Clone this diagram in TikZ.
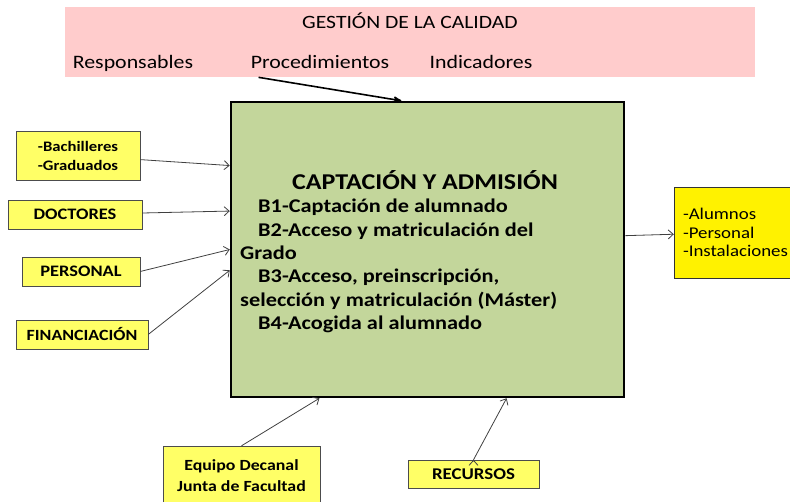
\documentclass[tikz,border=0pt]{standalone}
\usepackage{fontspec}
\setmainfont{Carlito}[FakeStretch=1.15]
\usepackage{tikz}
\usetikzlibrary{arrows,arrows.meta,positioning}

\definecolor{rosa}{HTML}{FFCCCC}
\definecolor{verde}{HTML}{C3D69B}
\definecolor{amarillo}{HTML}{FFFF66}

\begin{document}
\begin{tikzpicture}[x=1pt,y=-1pt,->,>={Straight Barb[length=5pt,width=9pt]},
                    entrada/.style={draw=black!70,fill=amarillo,inner sep=0pt,
                      align=center,font=\bfseries},
                    flecha/.style={draw=black!75,line width=0.8pt}]
  \useasboundingbox (0,0) rectangle (790,502);

  \node[fill=rosa,minimum width=690pt,minimum height=70pt,inner sep=0pt]
        (Q) at (410,42) {};
  \node[font=\fontsize{18.8}{22}\selectfont] (QT) at (410,21) {GESTIÓN DE LA CALIDAD};
  \node[font=\fontsize{19}{22}\selectfont,inner sep=0pt,anchor=base] (R) at (133,69) {Responsables};
  \node[font=\fontsize{19}{22}\selectfont,inner sep=0pt,anchor=base] (P) at (320,69) {Procedimientos};
  \node[font=\fontsize{19}{22}\selectfont,inner sep=0pt,anchor=base] (I) at (481,69) {Indicadores};

  \node[draw=black,line width=2.5pt,fill=verde,minimum width=393pt,
        minimum height=295pt,inner sep=0pt] (G) at (427.5,249.5) {};
  \node[font=\fontsize{22.6}{26}\selectfont\bfseries,inner sep=0pt]
        (T) at (425,180) {CAPTACIÓN Y ADMISIÓN};
  \node[font=\fontsize{19.4}{23.3}\selectfont\bfseries,align=left,inner sep=0pt,
        anchor=north west] (B) at (240,199)
        {\hspace*{18pt}B1-Captación de alumnado\\
         \hspace*{18pt}B2-Acceso y matriculación del\\
         Grado\\
         \hspace*{18pt}B3-Acceso, preinscripción,\\
         selección y matriculación (Máster)\\
         \hspace*{18pt}B4-Acogida al alumnado};

  \node[entrada,minimum width=124pt,minimum height=49pt,font=\fontsize{14.5}{19}\selectfont\bfseries]
        (BG) at (78,155.5) {-Bachilleres\\-Graduados};
  \node[entrada,minimum width=134pt,minimum height=29pt,font=\fontsize{16}{19}\selectfont\bfseries]
        (D) at (75,214.5) {DOCTORES};
  \node[entrada,minimum width=118pt,minimum height=29pt,font=\fontsize{16}{19}\selectfont\bfseries]
        (PE) at (81,271.5) {PERSONAL};
  \node[entrada,minimum width=132pt,minimum height=29pt,font=\fontsize{15.6}{19}\selectfont\bfseries]
        (F) at (82,334.5) {FINANCIACIÓN};

  \node[draw=black!80,fill=yellow,minimum width=118pt,minimum height=91pt,
        inner sep=0pt,text width=100pt,align=left,font=\fontsize{16.4}{18.7}\selectfont]
        (S) at (733,232.5) {\mbox{-Alumnos}\\\mbox{-Personal}\\\mbox{-Instalaciones}};

  \node[entrada,minimum width=157pt,minimum height=60pt,font=\fontsize{15.5}{21}\selectfont\bfseries]
        (E) at (241.5,476) {Equipo Decanal\\Junta de Facultad};
  \node[entrada,minimum width=131pt,minimum height=28pt,font=\fontsize{16.4}{19}\selectfont\bfseries]
        (RC) at (473.5,474) {RECURSOS};

  \path[flecha] (BG) edge (G.157.2)
                (D)  edge (G.169.8)
                (PE.east) edge (G.180.1)
                (F.east)  edge (G.186.5)
                (G.4.8)   edge (S)
                (E.north) edge (G.234.7)
                (RC.north) edge (G.298.3);
  \draw[-stealth',line width=1.6pt] ([xshift=8pt,yshift=-8pt]P.south west) -- (G.100.56);
\end{tikzpicture}
\end{document}
